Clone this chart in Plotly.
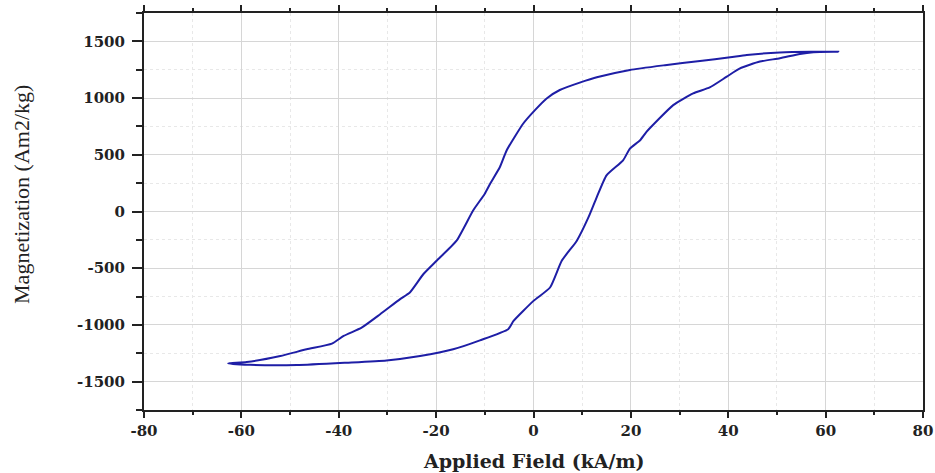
import plotly.graph_objects as go

# Upper (descending) branch: from positive saturation to negative saturation
upper_h = [62.6, 57.0, 50.6, 43.8, 40.4, 34.2, 27.0, 19.8, 13.0, 9.5, 5.4, 2.7, 0.3,
           -2.1, -5.5, -6.9, -8.9, -10.0, -12.4, -15.8, -19.9, -22.6, -25.4, -27.4,
           -31.5, -35.3, -39.0, -41.4, -46.6, -52.0, -58.9, -62.7]
upper_m = [1408, 1408, 1402, 1380, 1360, 1327, 1290, 1248, 1183, 1136, 1071, 997, 894,
           776, 540, 392, 245, 157, 9, -257, -434, -551, -714, -773,
           -906, -1024, -1097, -1165, -1215, -1274, -1327, -1339]

# Lower (ascending) branch: from negative saturation back to positive saturation
lower_h = [-62.7, -58.2, -48.6, -38.4, -30.2, -23.3, -16.5, -11.0, -5.2, -4.1, 0.0,
           3.4, 5.8, 8.9, 11.3, 13.0, 15.0, 18.4, 19.8, 21.9, 23.2, 28.7, 32.8, 36.2,
           39.7, 42.4, 46.5, 50.6, 54.7, 57.5, 62.6]
lower_m = [-1339, -1352, -1354, -1333, -1313, -1274, -1215, -1136, -1038, -965, -788,
           -670, -434, -257, -50, 127, 319, 451, 555, 628, 702, 938, 1042, 1094,
           1189, 1262, 1322, 1351, 1389, 1404, 1408]

x_ticks = [-80, -60, -40, -20, 0, 20, 40, 60, 80]
y_ticks = [-1500, -1000, -500, 0, 500, 1000, 1500]

fig = go.Figure()
fig.add_trace(go.Scatter(
    x=upper_h + lower_h[1:], y=upper_m + lower_m[1:],
    mode="lines", line=dict(color="#1e1ea6", width=2, shape="spline", smoothing=0.5),
    showlegend=False, hoverinfo="skip"))

tickfont = dict(family="DejaVu Serif", size=15, color="#222222", weight="bold")

fig.update_layout(
    width=935, height=473,
    margin=dict(l=144, r=12, t=13, b=63),
    paper_bgcolor="white", plot_bgcolor="white",
    xaxis=dict(
        range=[-80, 80], tickvals=x_ticks, ticktext=[str(v) for v in x_ticks],
        ticks="outside", ticklen=6, tickwidth=2, tickcolor="#222222",
        showline=True, linecolor="#222222", linewidth=2, mirror="ticks",
        showgrid=True, gridcolor="#d6d6d6", gridwidth=1, automargin=False,
        zeroline=False, tickfont=tickfont,
        minor=dict(dtick=10, tick0=0, ticks="outside", ticklen=3, tickwidth=2,
                   tickcolor="#222222", showgrid=True, gridcolor="#e8e8e8",
                   griddash="dot", gridwidth=1),
    ),
    yaxis=dict(
        range=[-1750, 1750], tickvals=y_ticks, ticktext=[str(v) for v in y_ticks],
        ticks="outside", ticklen=10, tickwidth=2, tickcolor="#222222",
        showline=True, linecolor="#222222", linewidth=2, mirror=True,
        showgrid=True, gridcolor="#d6d6d6", gridwidth=1, automargin=False,
        zeroline=False, tickfont=tickfont, ticklabelstandoff=4,
        minor=dict(dtick=250, tick0=0, ticks="outside", ticklen=6, tickwidth=2,
                   tickcolor="#222222", showgrid=True, gridcolor="#e8e8e8",
                   griddash="dot", gridwidth=1),
    ),
    annotations=[
        dict(text="Applied Field (kA/m)", xref="paper", yref="paper",
             x=0.5, y=-0.1285, xanchor="center", yanchor="middle", showarrow=False,
             font=dict(family="DejaVu Serif", size=19, color="#222222", weight="bold")),
        dict(text="Magnetization (Am2/kg)", xref="paper", yref="paper",
             x=-0.158, y=0.544, xanchor="center", yanchor="middle", showarrow=False,
             textangle=-90,
             font=dict(family="Liberation Serif", size=22, color="#222222")),
    ],
)

fig.write_html("out.html")
